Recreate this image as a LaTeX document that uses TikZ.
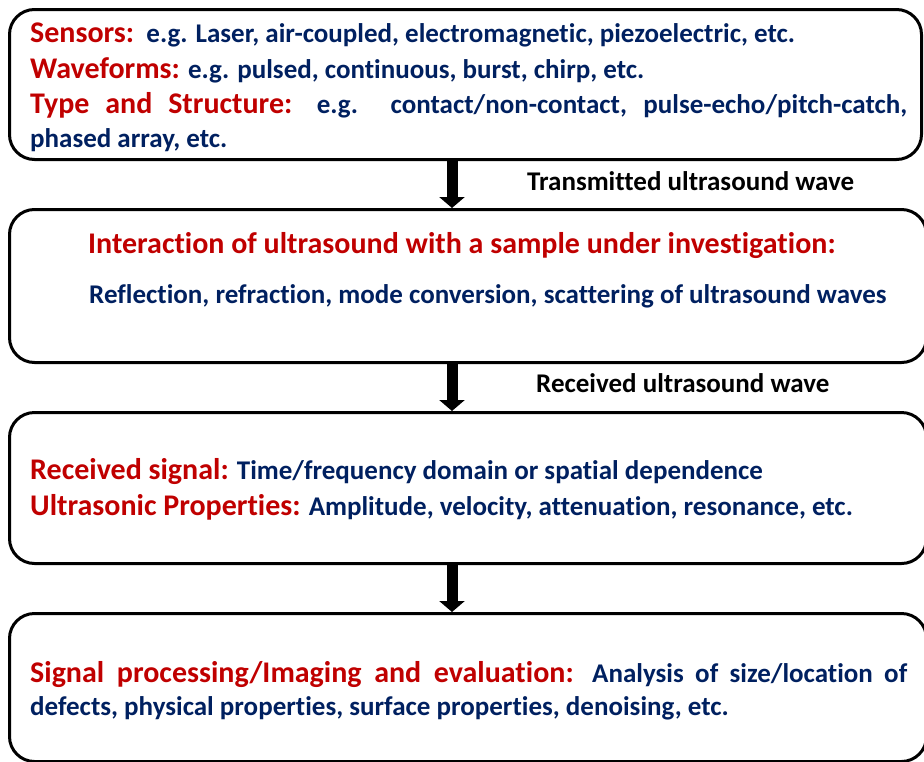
\documentclass[tikz,border=0pt]{standalone}
\usepackage{fontspec}
\setmainfont{Carlito}[BoldFont={Carlito Bold},Ligatures=NoCommon]
\usetikzlibrary{arrows.meta}
\definecolor{hdred}{RGB}{192,0,0}
\definecolor{txblue}{RGB}{0,32,96}
\newcommand\hdr[1]{{\color{hdred}\fontsize{30}{35}\selectfont#1}}

\begin{document}
\begin{tikzpicture}[x=1pt,y=-1pt,
  box/.style={draw,line width=3pt,rounded corners=25pt,inner sep=0pt,anchor=north west},
  ln/.style={anchor=base west,inner sep=0pt,text=txblue,font=\bfseries\fontsize{27}{32}\selectfont},
  wave/.style={ln,text=black},
  down/.style={line width=11pt,-{Triangle[width=25pt,length=11pt]}}]
\useasboundingbox (0,0) rectangle (924,761);
\node[box,minimum width=912pt,minimum height=150pt] (sensors) at (8,8) {};
\node[box,minimum width=917pt,minimum height=153pt] (interact) at (8,208) {};
\node[box,minimum width=917pt,minimum height=151pt] (received) at (8,411) {};
\node[box,minimum width=917pt,minimum height=148pt] (evaluate) at (8,612) {};
\coordinate (ax) at (452,0);
\node[ln] (s1) at (30,42) {\hdr{Sensors:}\ \ e.g. Laser, air-coupled, electromagnetic, piezoelectric, etc.};
\node[ln] (s2) at (30,78) {\hdr{Waveforms:} e.g. pulsed, continuous, burst, chirp, etc.};
\node[ln] (s3) at (30,113) {\makebox[877pt][s]{\hdr{Type and Structure:} e.g. contact/non-contact, pulse-echo/pitch-catch,}};
\node[ln] (s4) at (30,147) {phased array, etc.};
\node[ln] (i1) at (88,253) {\hdr{Interaction of ultrasound with a sample under investigation:}};
\node[ln] (i2) at (89,303) {Reflection, refraction, mode conversion, scattering of ultrasound waves};
\node[ln] (r1) at (30,479) {\hdr{Received signal:} Time/frequency domain or spatial dependence};
\node[ln] (r2) at (30,515) {\hdr{Ultrasonic Properties:} Amplitude, velocity, attenuation, resonance, etc.};
\node[ln] (e1) at (30,682) {\makebox[877pt][s]{\hdr{Signal processing/Imaging and evaluation:} Analysis of size/location of}};
\node[ln] (e2) at (30,715) {defects, physical properties, surface properties, denoising, etc.};
\node[wave] (tw) at (527,190) {Transmitted ultrasound wave};
\node[wave] (rw) at (536,392) {Received ultrasound wave};
\draw[down] (sensors.south -| ax) -- (interact.north -| ax);
\draw[down] (interact.south -| ax) -- (received.north -| ax);
\draw[down] (received.south -| ax) -- (evaluate.north -| ax);
\end{tikzpicture}
\end{document}
